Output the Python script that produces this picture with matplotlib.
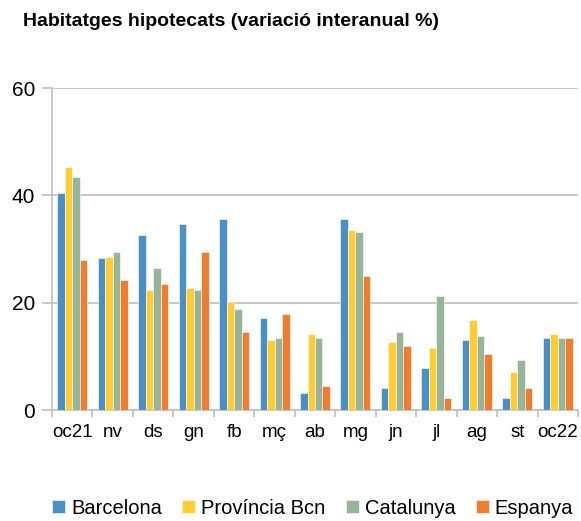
import matplotlib
matplotlib.use('Agg')
from matplotlib import pyplot as plt
import numpy as np

months = ['oc21', 'nv', 'ds', 'gn', 'fb', 'mç', 'ab', 'mg', 'jn', 'jl', 'ag', 'st', 'oc22']
barcelona = [40.5, 28.3, 32.7, 34.6, 35.6, 17.1, 3.2, 35.6, 4.1, 7.8, 13.0, 2.2, 13.4]
provincia = [45.3, 28.6, 22.3, 22.7, 20.1, 13.0, 14.2, 33.5, 12.7, 11.5, 16.8, 7.1, 14.2]
catalunya = [43.5, 29.4, 26.4, 22.3, 18.9, 13.5, 13.5, 33.1, 14.5, 21.2, 13.8, 9.3, 13.4]
espanya = [27.9, 24.2, 23.4, 29.4, 14.5, 17.8, 4.5, 25.0, 11.9, 2.2, 10.4, 4.1, 13.4]

series = [('Barcelona', barcelona, '#4A90C4'),
          ('Província Bcn', provincia, '#FFCC33'),
          ('Catalunya', catalunya, '#97B497'),
          ('Espanya', espanya, '#ED7D31')]

plt.rcParams['font.family'] = ['Liberation Sans', 'DejaVu Sans']

fig = plt.figure(figsize=(5.81, 5.21), dpi=100)
ax = fig.add_axes([52 / 581, 1 - 410 / 521, (578 - 52) / 581, (410 - 88) / 521])

x = np.arange(len(months))
w = 0.185
for i, (name, vals, col) in enumerate(series):
    ax.bar(x + (i - 1.5) * w, vals, w, color=col, label=name,
           edgecolor='white', linewidth=0.4, zorder=3)

ax.set_xlim(-0.5, len(months) - 0.5)
ax.set_ylim(0, 60)
ax.set_yticks([0, 20, 40, 60])
ax.grid(axis='y', color='#BFBFBF', linewidth=1.2, zorder=0)
ax.set_axisbelow(True)

for s in ['top', 'right']:
    ax.spines[s].set_visible(False)
for s in ['left', 'bottom']:
    ax.spines[s].set_color('#BFBFBF')
    ax.spines[s].set_linewidth(1.2)

ax.set_xticks(x)
ax.set_xticklabels(months)
ax.set_xticks(np.arange(len(months) + 1) - 0.5, minor=True)
ax.tick_params(axis='x', which='major', length=0, labelsize=13.5, pad=10)
ax.tick_params(axis='x', which='minor', length=5, color='#BFBFBF', width=1.2)
ax.tick_params(axis='y', length=7, color='#BFBFBF', width=1.2, labelsize=15, pad=5)

fig.text(23 / 581, 1 - 22 / 521, 'Habitatges hipotecats (variació interanual %)',
         fontsize=14, fontweight='bold', ha='left', va='center')

fig.legend(loc='center', bbox_to_anchor=(0.538, 1 - 508 / 521), ncol=4,
           frameon=False, fontsize=14.5, handlelength=0.65, handleheight=0.65,
           handletextpad=0.3, columnspacing=1.0)

fig.savefig('out.png', dpi=100)
